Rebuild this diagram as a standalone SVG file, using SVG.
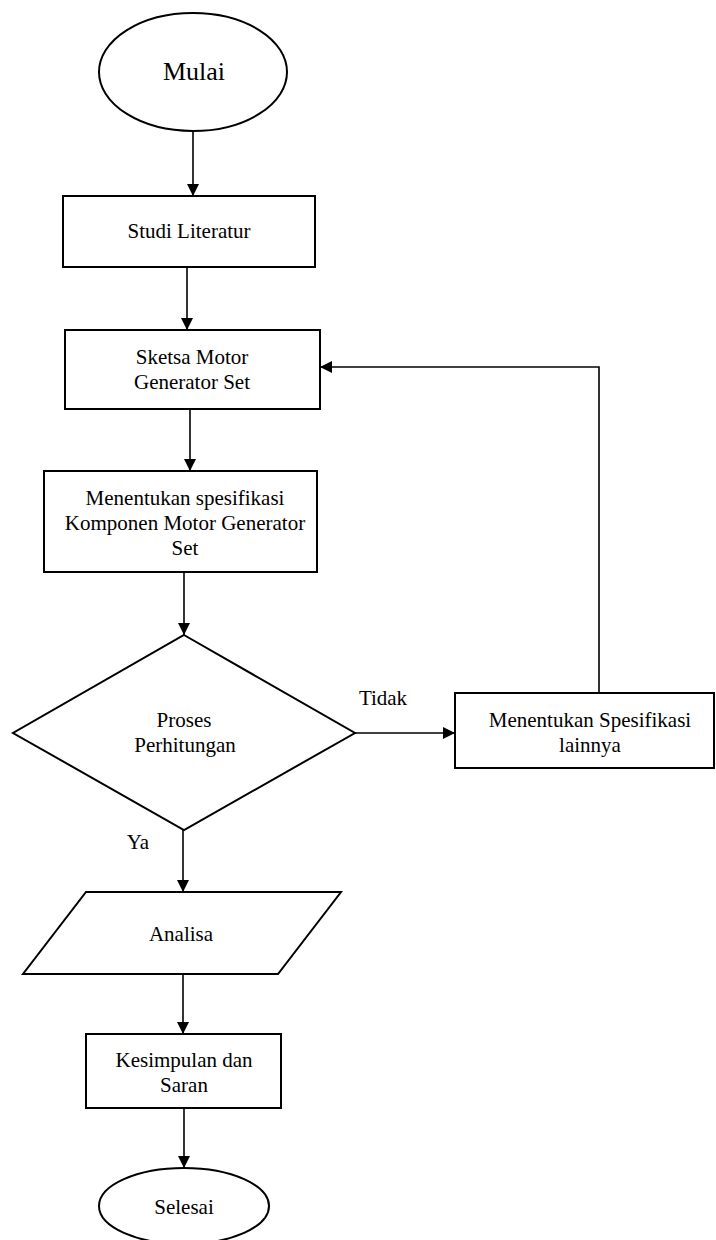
<svg xmlns="http://www.w3.org/2000/svg" width="716" height="1240" viewBox="0 0 716 1240">
<defs>
<style>
.shape{fill:#fff;stroke:#000;stroke-width:2}
.conn{fill:none;stroke:#000;stroke-width:1.6}
text{font-family:"Liberation Serif","Times New Roman",serif;font-size:21px;fill:#000;text-anchor:middle}
.big{font-size:26px}
</style>
<marker id="ah" markerUnits="userSpaceOnUse" markerWidth="12" markerHeight="12" refX="12" refY="6" orient="auto">
<path d="M0,0 L12,6 L0,12 z" fill="#000"/>
</marker>
</defs>
<rect width="716" height="1240" fill="#fff"/>
<g id="connectors">
<path class="conn" d="M193,131 V196" marker-end="url(#ah)"/>
<path class="conn" d="M187,267 V330" marker-end="url(#ah)"/>
<path class="conn" d="M190,409 V471" marker-end="url(#ah)"/>
<path class="conn" d="M184,572 V635" marker-end="url(#ah)"/>
<path class="conn" d="M355,733 H455" marker-end="url(#ah)"/>
<path class="conn" d="M599,693 V367 H320" marker-end="url(#ah)"/>
<path class="conn" d="M183,830 V892" marker-end="url(#ah)"/>
<path class="conn" d="M183,974 V1034" marker-end="url(#ah)"/>
<path class="conn" d="M184,1108 V1168" marker-end="url(#ah)"/>
<text x="383" y="705">Tidak</text>
<text x="138" y="849">Ya</text>
</g>
<g id="mulai">
<ellipse class="shape" cx="193" cy="72" rx="94" ry="59"/>
<text class="big" x="194" y="80">Mulai</text>
</g>
<g id="studi">
<rect class="shape" x="63" y="196" width="252" height="71"/>
<text x="189" y="238">Studi Literatur</text>
</g>
<g id="sketsa">
<rect class="shape" x="65" y="330" width="255" height="79"/>
<text x="192" y="364">Sketsa Motor</text>
<text x="192" y="389">Generator Set</text>
</g>
<g id="spesifikasi">
<rect class="shape" x="44" y="471" width="273" height="101"/>
<text x="185" y="505">Menentukan spesifikasi</text>
<text x="185" y="530">Komponen Motor Generator</text>
<text x="185" y="555">Set</text>
</g>
<g id="proses">
<polygon class="shape" points="184,635 355,733 184,830 13,733"/>
<text x="184" y="727">Proses</text>
<text x="185" y="752">Perhitungan</text>
</g>
<g id="lainnya">
<rect class="shape" x="455" y="693" width="259" height="75"/>
<text x="590" y="727">Menentukan Spesifikasi</text>
<text x="590" y="752">lainnya</text>
</g>
<g id="analisa">
<polygon class="shape" points="86,892 341,892 278,974 23,974"/>
<text x="181" y="941">Analisa</text>
</g>
<g id="kesimpulan">
<rect class="shape" x="86" y="1034" width="195" height="74"/>
<text x="184" y="1067">Kesimpulan dan</text>
<text x="184" y="1092">Saran</text>
</g>
<g id="selesai">
<ellipse class="shape" cx="184" cy="1206" rx="85" ry="38"/>
<text x="184" y="1214">Selesai</text>
</g>
</svg>
